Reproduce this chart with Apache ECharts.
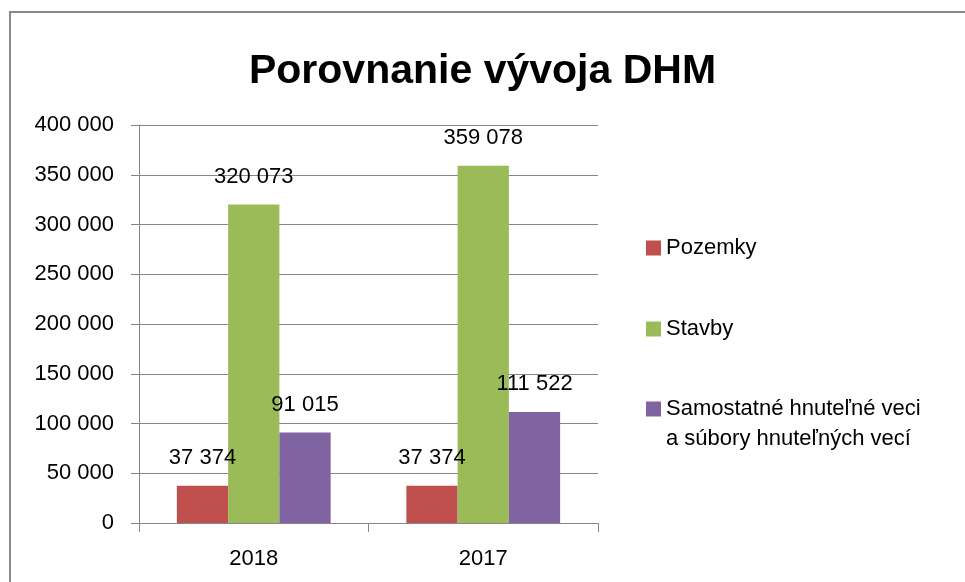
<!DOCTYPE html>
<html>
<head>
<meta charset="utf-8">
<script src="https://cdn.jsdelivr.net/npm/echarts@6/dist/echarts.min.js"></script>
<style>
    html, body { margin: 0; padding: 0; background: #fff; }
    #main { width: 965px; height: 582px; }
</style>
</head>
<body>
<div id="main"></div>
<script>
var years = ['2018', '2017'];
var pozemky = [37374, 37374];
var stavby = [320073, 359078];
var hnutelne = [91015, 111522];
var seriesNames = ['Pozemky', 'Stavby', 'Samostatné hnuteľné veci a súbory hnuteľných vecí'];
var colors = ['#C0504D', '#9BBB59', '#8064A2'];

var font = 'Liberation Sans';

// 37374 -> "37 374"
function fmt(v) {
    return String(v).replace(/\B(?=(\d{3})+(?!\d))/g, ' ');
}

var myChart = echarts.init(document.getElementById('main'));

function barSeries(name, data, color) {
    return {
        name: name,
        type: 'bar',
        data: data,
        barGap: '0%',
        barCategoryGap: '33%',
        itemStyle: { color: color },
        label: {
            show: true,
            position: 'top',
            distance: 17,
            color: '#000',
            fontFamily: font,
            fontSize: 22,
            formatter: function (p) { return fmt(p.value); }
        }
    };
}

function legendItem(name, top, extra) {
    var l = {
        data: [name],
        orient: 'vertical',
        left: 641,
        top: top,
        itemWidth: 15,
        itemHeight: 15,
        itemGap: 0,
        icon: 'rect',
        selectedMode: false,
        textStyle: { fontFamily: font, fontSize: 22, color: '#000', lineHeight: 30 }
    };
    if (extra) {
        // empty first line so the square sits next to the first text line
        l.formatter = function () { return ' \nSamostatné hnuteľné veci\na súbory hnuteľných vecí'; };
    }
    return l;
}

var option = {
    animation: false,
    title: {
        text: 'Porovnanie vývoja DHM',
        left: 'center',
        top: 46,
        textStyle: { fontFamily: font, fontSize: 41, fontWeight: 'bold', color: '#000' }
    },
    graphic: [{
        type: 'rect',
        shape: { x: 10, y: 12, width: 1000, height: 1000 },
        style: { fill: 'none', stroke: '#8a8a8a', lineWidth: 2 }
    }],
    legend: [
        legendItem(seriesNames[0], 228),
        legendItem(seriesNames[1], 309),
        legendItem(seriesNames[2], 359, true)
    ],
    grid: { left: 139, right: 367, top: 125, bottom: 59 },
    xAxis: {
        type: 'category',
        data: years,
        axisLine: { lineStyle: { color: '#868686', width: 1 } },
        axisTick: { show: true, length: 9, lineStyle: { color: '#868686' } },
        axisLabel: { color: '#000', fontFamily: font, fontSize: 22, margin: 25 }
    },
    yAxis: {
        type: 'value',
        min: 0,
        max: 400000,
        interval: 50000,
        axisLine: { show: true, lineStyle: { color: '#868686' } },
        axisTick: { show: true, length: 8, lineStyle: { color: '#868686' } },
        axisLabel: {
            color: '#000', fontFamily: font, fontSize: 22, margin: 25,
            formatter: function (v) { return fmt(v); }
        },
        splitLine: { lineStyle: { color: '#868686', width: 1 } }
    },
    series: [
        barSeries(seriesNames[0], pozemky, colors[0]),
        barSeries(seriesNames[1], stavby, colors[1]),
        barSeries(seriesNames[2], hnutelne, colors[2])
    ]
};
myChart.setOption(option);
</script>
</body>
</html>
